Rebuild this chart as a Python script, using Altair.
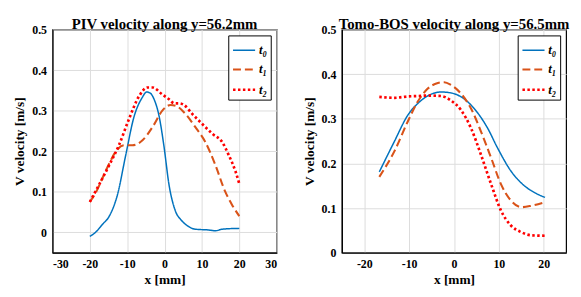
import altair as alt
import pandas as pd

# ---- data ----
series_names = ["t₀", "t₁", "t₂"]

piv_t0_x = [-20, -18.5, -16.6, -14.8, -12.6, -10.4, -8.2, -6, -4.8, -3.8, -2.8, -1.5, -0.2, 1.2, 2.9, 4.5, 5.6, 8.2, 11.8, 13.6, 15.4, 20]
piv_t0_y = [-0.01, 0.0, 0.02, 0.04, 0.093, 0.19, 0.284, 0.332, 0.346, 0.343, 0.328, 0.288, 0.215, 0.117, 0.053, 0.03, 0.02, 0.008, 0.006, 0.004, 0.008, 0.01]

piv_t1_x = [-20, -18.3, -16.6, -14.8, -13, -10.8, -8.6, -5.9, -3.2, -0.6, 1.6, 3, 5.6, 8.2, 10.9, 13.6, 16.2, 18, 20]
piv_t1_y = [0.075, 0.10, 0.134, 0.17, 0.2, 0.215, 0.215, 0.227, 0.26, 0.3, 0.314, 0.312, 0.292, 0.26, 0.223, 0.166, 0.101, 0.069, 0.04]

piv_t2_x = [-20, -17.5, -14.8, -12.2, -9.5, -6.8, -4.6, -3.2, -0.6, 1.2, 2.6, 3.9, 5.2, 7.4, 10.1, 12.8, 15.4, 17.2, 19, 20]
piv_t2_y = [0.075, 0.118, 0.166, 0.215, 0.28, 0.336, 0.357, 0.357, 0.34, 0.328, 0.318, 0.318, 0.314, 0.292, 0.267, 0.243, 0.223, 0.19, 0.15, 0.12]

bos_t0_x = [-16.65, -13.3, -10.3, -8.1, -5.9, -2.9, -0.7, 1.6, 4.5, 7.5, 9.7, 12.7, 15.7, 17.9, 20.3]
bos_t0_y = [0.181, 0.249, 0.308, 0.334, 0.351, 0.36, 0.358, 0.349, 0.323, 0.279, 0.235, 0.183, 0.150, 0.135, 0.124]

bos_t1_x = [-16.65, -13.3, -10.3, -8.1, -5.9, -3.6, -2.2, -0.7, 1.6, 3.8, 6, 8.3, 10.5, 12.7, 15, 17.2, 20.3]
bos_t1_y = [0.170, 0.227, 0.294, 0.338, 0.367, 0.380, 0.382, 0.376, 0.356, 0.323, 0.272, 0.212, 0.153, 0.117, 0.102, 0.105, 0.113]

bos_t2_x = [-16.65, -13.3, -10.3, -8.1, -5.9, -2.9, -0.7, 1.6, 3.8, 6, 8.3, 10.5, 12.7, 15, 17.2, 20.3]
bos_t2_y = [0.349, 0.347, 0.35, 0.351, 0.352, 0.351, 0.341, 0.319, 0.279, 0.22, 0.153, 0.094, 0.061, 0.046, 0.039, 0.038]

colors = ["#0072BD", "#D95319", "#FF0000"]
dashes = [[1, 0], [8, 4], [2.5, 2.5]]
widths = [1.5, 2.7, 3]

FONT = "Liberation Serif"


def make_df(xs, ys):
    rows = []
    for name, xv, yv in zip(series_names, xs, ys):
        for i, (a, b) in enumerate(zip(xv, yv)):
            rows.append({"series": name, "x": a, "v": b, "order": i})
    return pd.DataFrame(rows)


def panel(df, title, xdom, xticks, ydom):
    return alt.Chart(df).mark_line(interpolate="monotone", clip=True).encode(
        x=alt.X("x:Q", title="x [mm]",
                scale=alt.Scale(domain=xdom, nice=False, zero=False),
                axis=alt.Axis(values=xticks,
                              labelExpr="replace(format(datum.value, 'd'), '−', '-')")),
        y=alt.Y("v:Q", title="V velocity [m/s]",
                scale=alt.Scale(domain=ydom, nice=False, zero=False),
                axis=alt.Axis(values=[0, 0.1, 0.2, 0.3, 0.4, 0.5], format=".1~f",
                              minExtent=24, maxExtent=24)),
        color=alt.Color("series:N", sort=series_names,
                        scale=alt.Scale(domain=series_names, range=colors),
                        legend=alt.Legend(title=None, orient="top-right", offset=6,
                                          symbolType="stroke", symbolSize=500,
                                          symbolStrokeWidth=2.2,
                                          labelFont=FONT, labelFontSize=13,
                                          labelFontWeight="bold", labelFontStyle="italic",
                                          strokeColor="black", fillColor="white",
                                          padding=3, rowPadding=0, labelOffset=2)),
        strokeDash=alt.StrokeDash("series:N", sort=series_names,
                                  scale=alt.Scale(domain=series_names, range=dashes),
                                  legend=alt.Legend(title=None, orient="top-right")),
        strokeWidth=alt.StrokeWidth("series:N",
                                    scale=alt.Scale(domain=series_names, range=widths),
                                    legend=None),
        order="order:Q",
    ).properties(
        width=227, height=226,
        title=alt.Title(title, font=FONT, fontSize=15, fontWeight="bold", offset=-4, dy=5),
    )


left = panel(make_df([piv_t0_x, piv_t1_x, piv_t2_x], [piv_t0_y, piv_t1_y, piv_t2_y]),
             "PIV velocity along y=56.2mm", [-30, 30], [-30, -20, -10, 0, 10, 20, 30], [-0.05, 0.5])
right = panel(make_df([bos_t0_x, bos_t1_x, bos_t2_x], [bos_t0_y, bos_t1_y, bos_t2_y]),
              "Tomo-BOS velocity along y=56.5mm", [-25, 25], [-20, -10, 0, 10, 20], [0, 0.5])

chart = alt.hconcat(left, right, spacing=24).resolve_scale(
    color="independent", strokeDash="independent", strokeWidth="independent",
).resolve_legend(
    color="independent", strokeDash="independent",
).configure(
    padding={"left": 4, "top": 7, "right": 2, "bottom": 2},
).configure_view(
    stroke="black", strokeWidth=1.2,
).configure_axis(
    labelFont=FONT, labelFontSize=12, labelFontWeight="bold", labelColor="black",
    titleFont=FONT, titleFontSize=13.5, titleFontWeight="bold", titleColor="black",
    ticks=False, labelPadding=6, titlePadding=2,
    domainColor="black", domainWidth=1.2,
    gridColor="#dcdcdc", gridWidth=1,
).configure_axisX(labelPadding=6, titlePadding=3)

chart.save("out.html", embed_options={"renderer": "svg", "actions": False})
